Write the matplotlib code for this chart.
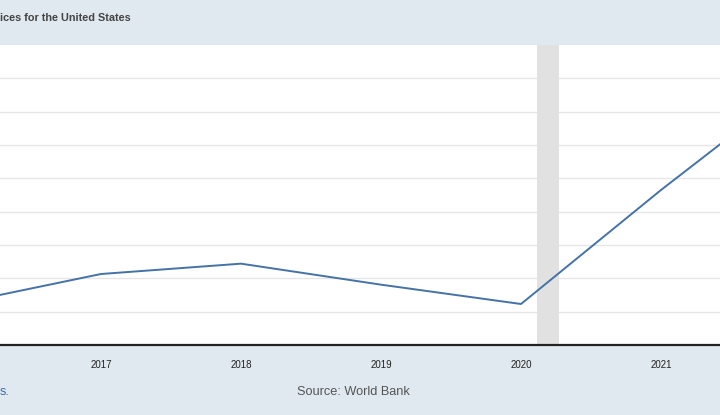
import matplotlib.pyplot as plt

# annual inflation, consumer prices (%)
years = [2016, 2017, 2018, 2019, 2020, 2021, 2022]
values = [1.26, 2.13, 2.44, 1.81, 1.23, 4.65, 7.90]
tick_years = [2017, 2018, 2019, 2020, 2021]
recession = (2020.115, 2020.27)

bg = '#e1e9f0'
line_color = '#4572a7'

plt.rcParams['font.family'] = ['Liberation Sans', 'DejaVu Sans']

fig = plt.figure(figsize=(7.2, 4.15), dpi=100, facecolor=bg)
ax = fig.add_axes([0, 70 / 415, 1, 300 / 415])
ax.set_facecolor('white')

ax.axvspan(*recession, color='#e1e1e1', lw=0, zorder=1)
ax.plot(years, values, color=line_color, lw=1.4, zorder=3)

ax.set_xlim(2017 - 101 / 140, 2021 + 59 / 140)
ax.set_ylim(0, 9)
ax.set_yticks(range(1, 9))
ax.yaxis.grid(True, color='#e6e6e6', lw=1)
ax.set_axisbelow(True)
ax.tick_params(axis='y', left=False, labelleft=False)

ax.set_xticks(tick_years)
ax.set_xticklabels([str(y) for y in tick_years], fontsize=7, color='#222222')
ax.tick_params(axis='x', length=0, pad=11)

for side in ['top', 'left', 'right']:
    ax.spines[side].set_visible(False)
ax.spines['bottom'].set_color('#222222')
ax.spines['bottom'].set_linewidth(1.6)

fig.text(0, 1 - 18 / 415, 'ices for the United States', fontsize=7.8,
         fontweight='bold', color='#444444', va='center', ha='left')
fig.text(0, 1 - 392 / 415, 's.', fontsize=9, color='#3a6ea5',
         va='center', ha='left')
fig.text(353 / 720, 1 - 392 / 415, 'Source: World Bank', fontsize=9.2,
         color='#555555', va='center', ha='center')

fig.savefig('out.png', dpi=100, facecolor=bg)
